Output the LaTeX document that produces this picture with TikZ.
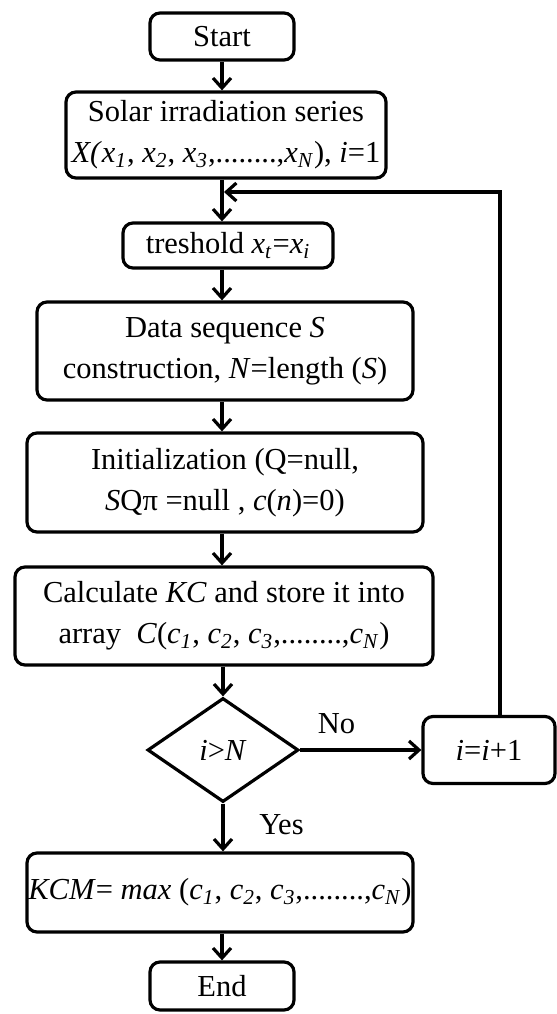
\documentclass[tikz,border=0pt]{standalone}
\usepackage{fontspec}
\setmainfont{Liberation Serif}
\usetikzlibrary{shapes.geometric,arrows.meta}
\newcommand{\vsub}[2]{\textit{#1}\textsubscript{\textit{#2}}}

\begin{document}
\begin{tikzpicture}[x=0.5pt,y=-0.5pt,
  box/.style={draw, line width=1.6pt, rounded corners=5pt, align=center, inner sep=0pt, font=\fontsize{15.25}{20.5}\selectfont},
  decision/.style={draw, diamond, line width=1.6pt, inner sep=0pt, font=\fontsize{15.25}{20.5}\selectfont},
  flow/.style={line width=1.6pt, -{Straight Barb[length=5pt,width=9pt]}},
  lbl/.style={font=\fontsize{15.25}{20.5}\selectfont}]

  \useasboundingbox (0,0) rectangle (557,1014);

% Boxes
  \node[box, minimum width=72pt, minimum height=23.5pt] (start) at (222,36.5) {Start};
  \node[box, minimum width=160pt, minimum height=43pt] (solar) at (226,135)
    {Solar irradiation series\\ \textit{X(}\vsub{x}{1}, \vsub{x}{2}, \vsub{x}{3},........,\vsub{x}{N}), \textit{i}=1};
  \node[box, minimum width=105pt, minimum height=22.5pt] (thr) at (228,245.5) {treshold \vsub{x}{t}=\vsub{x}{i}};
  \node[box, minimum width=188pt, minimum height=49pt] (data) at (225,351)
    {Data sequence \textit{S}\\ construction, \textit{N}=length (\textit{S})};
  \node[box, minimum width=198pt, minimum height=49.5pt] (init) at (225,482.5)
    {Initialization (Q=null,\\ \textit{S}Qπ =null , \textit{c}(\textit{n})=0)};
  \node[box, minimum width=209pt, minimum height=49pt] (calc) at (224,616)
    {Calculate \textit{KC} and store it into\\ array\ \ \textit{C}(\vsub{c}{1}, \vsub{c}{2}, \vsub{c}{3},........,\vsub{c}{N})};
  \node[decision, minimum width=75.5pt, minimum height=52pt] (test) at (223,750) {\textit{i}>\textit{N}};
  \node[box, minimum width=66pt, minimum height=33.5pt] (inc) at (489,750) {\textit{i}=\textit{i}+1};
  \node[box, minimum width=193pt, minimum height=39.5pt] (kcm) at (220,892.5)
    {\textit{KCM}= \textit{max} (\vsub{c}{1}, \vsub{c}{2}, \vsub{c}{3},........,\vsub{c}{N})};
  \node[box, minimum width=72pt, minimum height=24pt] (end) at (222,986) {End};

% Loop points
  \coordinate (join) at (224,192);
  \coordinate (corner) at (500,192);

% Arrows
  \draw[flow] (start.south) -- (start.south |- solar.north);
  \draw[flow] (solar.south -| start.south) -- (start.south |- thr.north);
  \draw[flow] (thr.south -| start.south) -- (start.south |- data.north);
  \draw[flow] (data.south -| start.south) -- (start.south |- init.north);
  \draw[flow] (init.south -| start.south) -- (start.south |- calc.north);
  \draw[flow] (calc.south -| test.north) -- (test.north);
  \draw[flow] (test.south) -- (test.south |- kcm.north) node[lbl, pos=0.45, right=14pt] {Yes};
  \draw[flow] (kcm.south -| end.north) -- (end.north);
  \draw[flow] (test.east) -- (inc.west) node[lbl, pos=0.3, above=4pt] {No};
  \draw[flow] (inc.north -| corner) -- (corner) -- (join);

\end{tikzpicture}
\end{document}
